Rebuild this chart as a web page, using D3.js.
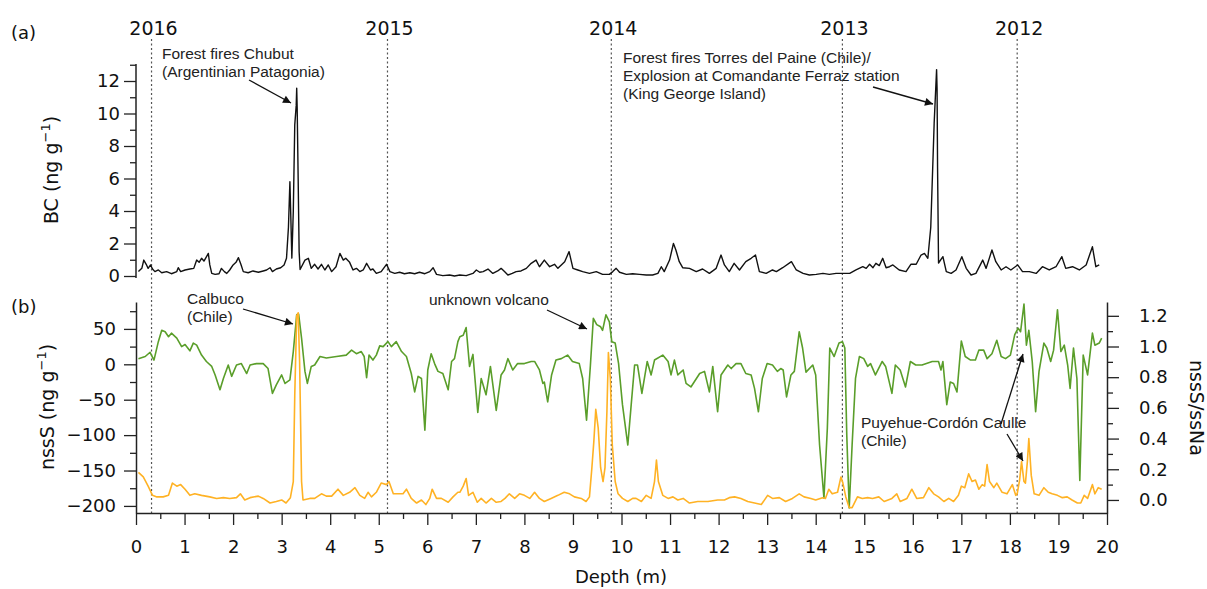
<!DOCTYPE html>
<html>
<head>
<meta charset="utf-8">
<script src="https://cdn.jsdelivr.net/npm/d3@7"></script>
<style>
body { margin: 0; background: #fff; }
text { font-family: "DejaVu Sans", sans-serif; fill: #111; }
.note { font-family: "Liberation Sans", Arial, sans-serif; font-size: 15.5px; fill: #222; }
</style>
</head>
<body>
<div id="container"></div>
<script>

var w = 1207;
var h = 589;

// year boundaries (depth in m)
var years = ["2016", "2015", "2014", "2013", "2012"];
var yearDepth = [0.32, 5.18, 9.79, 14.55, 18.15];

// black carbon, [depth m, ng/g]
var bc = [
  [0.05,0.27],[0.12,0.47],[0.16,0.98],[0.21,0.72],[0.25,0.47],[0.30,0.68],[0.34,0.43],[0.39,0.27],
  [0.46,0.37],[0.53,0.20],[0.63,0.27],[0.73,0.14],[0.84,0.27],[0.87,0.51],[0.92,0.27],
  [1.01,0.37],[1.11,0.43],[1.19,0.47],[1.25,0.98],[1.30,0.84],[1.35,1.09],[1.40,0.92],[1.49,1.39],
  [1.52,0.68],[1.56,0.16],[1.63,0.10],[1.71,0.14],[1.76,0.47],[1.82,0.27],[1.87,0.16],[1.93,0.37],
  [2.00,0.68],[2.06,0.84],[2.11,1.13],[2.16,0.72],[2.21,0.27],[2.31,0.20],[2.41,0.31],[2.52,0.23],
  [2.62,0.31],[2.69,0.37],[2.76,0.51],[2.81,0.27],[2.89,0.43],[2.98,0.51],
  [3.05,0.68],[3.10,1.09],[3.14,3.0],[3.17,5.8],[3.19,3.5],[3.21,1.1],[3.24,4.0],[3.27,9.3],
  [3.30,10.5],[3.31,11.55],[3.32,10.3],[3.34,6.0],[3.36,1.5],[3.38,0.4],
  [3.48,0.98],[3.55,1.09],[3.61,0.47],[3.68,0.72],[3.75,0.43],[3.82,0.72],[3.89,0.37],[3.96,0.68],
  [4.03,0.27],[4.12,0.57],[4.20,1.39],[4.27,0.98],[4.32,1.09],[4.40,0.84],[4.47,0.37],[4.54,0.47],
  [4.61,0.27],[4.68,0.37],[4.75,0.78],[4.83,0.37],[4.88,0.43],[4.95,0.16],
  [5.05,0.27],[5.16,0.72],[5.23,0.27],[5.33,0.16],[5.43,0.23],[5.53,0.14],[5.64,0.20],[5.74,0.14],
  [5.84,0.23],[5.95,0.14],[6.05,0.27],[6.12,0.51],[6.19,0.10],[6.32,0.02],[6.46,0.06],[6.56,0.0],
  [6.67,0.06],[6.80,0.02],[6.94,0.16],[7.01,0.37],[7.08,0.23],[7.15,0.27],[7.25,0.43],[7.35,0.16],
  [7.45,0.31],[7.52,0.47],[7.59,0.27],[7.66,0.06],[7.75,0.16],[7.83,0.27],[7.93,0.31],
  [8.04,0.47],[8.14,0.78],[8.24,0.98],[8.31,0.57],[8.41,0.98],[8.52,0.57],[8.62,0.72],[8.69,0.47],
  [8.83,0.88],[8.92,1.5],[9.00,0.47],[9.10,0.37],[9.20,0.27],[9.34,0.16],[9.48,0.27],[9.61,0.10],
  [9.75,0.10],[9.82,0.27],[9.89,0.47],[9.96,0.23],[10.10,0.10],[10.23,0.14],[10.37,0.10],
  [10.51,0.06],[10.64,0.06],[10.75,0.16],[10.82,0.57],[10.88,0.27],[10.99,0.98],[11.07,2.0],
  [11.12,1.6],[11.19,0.88],[11.26,0.51],[11.40,0.47],[11.54,0.27],[11.67,0.43],[11.81,0.16],
  [11.95,0.47],[12.05,1.29],[12.12,0.68],[12.22,0.27],[12.32,0.78],[12.43,0.37],[12.56,0.88],
  [12.67,1.09],[12.76,1.29],[12.84,0.27],[12.98,0.16],[13.11,0.37],[13.19,0.27],[13.32,0.51],
  [13.50,0.88],[13.60,0.37],[13.74,0.16],[13.87,0.06],[14.01,0.10],[14.15,0.16],[14.28,0.10],
  [14.42,0.16],[14.56,0.16],[14.70,0.16],[14.83,0.37],[14.97,0.57],[15.04,0.47],[15.11,0.72],
  [15.18,0.51],[15.24,0.78],[15.31,0.64],[15.38,1.09],[15.45,0.51],[15.52,0.57],[15.59,0.68],
  [15.72,0.37],[15.86,0.27],[15.96,0.72],[16.07,0.72],[16.17,1.29],[16.24,1.39],[16.31,1.09],
  [16.37,3.0],[16.44,9.4],[16.49,12.7],[16.50,11.5],[16.51,6.7],[16.53,0.8],[16.62,1.19],
  [16.69,0.27],[16.79,0.16],[16.89,0.37],[17.01,1.19],[17.10,0.47],[17.20,0.06],[17.30,0.16],
  [17.44,0.98],[17.51,0.47],[17.63,1.6],[17.71,0.88],[17.82,0.37],[17.92,0.57],[18.02,0.37],
  [18.16,0.68],[18.26,0.27],[18.40,0.27],[18.54,0.16],[18.67,0.57],[18.81,0.37],[18.95,0.57],
  [19.07,1.19],[19.15,0.47],[19.29,0.57],[19.43,0.37],[19.57,0.68],[19.70,1.8],[19.77,0.57],[19.84,0.68]
];

// nssS, [depth m, ng/g]  (green, left axis)
var nssS = [
  [0.05,8],[0.19,11],[0.29,17],[0.37,6],[0.46,32],[0.53,48],[0.60,46],[0.67,39],[0.73,44],[0.84,37],
  [0.94,25],[1.01,28],[1.11,19],[1.18,30],[1.25,27],[1.35,13],[1.45,4],[1.56,-3],[1.63,-15],[1.73,-36],
  [1.80,-20],[1.90,-1],[1.97,-17],[2.07,-1],[2.17,1],[2.28,-13],[2.35,-1],[2.48,1],[2.62,1],[2.72,-6],
  [2.81,-41],[2.89,-29],[3.00,-15],[3.07,-27],[3.17,-22],[3.24,18],[3.31,70],[3.35,71],[3.41,37],
  [3.48,-10],[3.53,-27],[3.61,-3],[3.68,-1],[3.79,11],[3.92,9],[4.13,11],[4.33,13],[4.44,20],[4.54,15],
  [4.64,18],[4.70,11],[4.75,-19],[4.80,13],[4.88,6],[4.95,13],[5.02,26],[5.09,25],[5.19,32],[5.26,25],
  [5.36,32],[5.47,18],[5.57,11],[5.67,-13],[5.74,-39],[5.81,-17],[5.88,-20],[5.95,-93],[6.01,-8],
  [6.08,15],[6.15,1],[6.22,-10],[6.32,-13],[6.43,-36],[6.50,4],[6.56,8],[6.63,32],[6.67,39],[6.74,41],
  [6.80,52],[6.87,-3],[6.94,14],[7.04,-68],[7.11,-20],[7.21,-43],[7.30,-3],[7.42,-65],[7.52,-15],
  [7.59,-8],[7.66,8],[7.76,-8],[7.86,1],[8.00,1],[8.14,4],[8.21,4],[8.31,-8],[8.38,-27],[8.41,-25],
  [8.48,-53],[8.56,-15],[8.65,6],[8.76,8],[8.89,13],[8.99,4],[9.13,1],[9.20,-20],[9.28,-79],[9.36,-1],
  [9.42,65],[9.49,56],[9.57,53],[9.61,48],[9.68,70],[9.75,60],[9.80,32],[9.87,30],[9.94,1],[10.02,-57],
  [10.13,-114],[10.20,-57],[10.27,-1],[10.33,-1],[10.42,-41],[10.53,4],[10.61,-15],[10.68,6],
  [10.85,13],[10.96,4],[11.02,-15],[11.09,6],[11.16,-15],[11.27,-8],[11.33,-27],[11.43,-32],
  [11.61,-13],[11.71,-10],[11.81,-39],[11.88,-3],[11.98,-67],[12.05,-15],[12.19,-1],[12.26,-6],
  [12.36,1],[12.46,1],[12.56,-13],[12.67,-15],[12.74,-34],[12.82,-67],[12.90,-20],[13.00,1],
  [13.11,-1],[13.21,-10],[13.28,-6],[13.33,-8],[13.40,-46],[13.49,-15],[13.56,-10],[13.66,46],
  [13.73,23],[13.80,-11],[13.94,-1],[14.00,-15],[14.08,-114],[14.17,-189],[14.24,-90],[14.29,23],
  [14.38,11],[14.48,30],[14.55,32],[14.60,23],[14.64,-100],[14.69,-203],[14.75,-114],[14.82,-20],
  [14.90,11],[14.99,8],[15.07,-3],[15.13,1],[15.23,-15],[15.37,4],[15.44,-3],[15.57,-41],[15.64,-1],
  [15.74,-8],[15.85,-32],[15.95,4],[16.06,-1],[16.19,-1],[16.40,4],[16.53,4],[16.58,-8],[16.62,4],
  [16.70,-57],[16.77,-25],[16.84,-27],[16.91,-39],[17.00,33],[17.08,11],[17.19,6],[17.29,6],
  [17.36,20],[17.46,20],[17.53,8],[17.63,15],[17.73,34],[17.82,11],[17.91,8],[18.01,13],[18.10,42],
  [18.17,51],[18.22,46],[18.29,85],[18.34,27],[18.39,48],[18.46,4],[18.53,-67],[18.60,-10],
  [18.70,30],[18.76,23],[18.84,4],[18.90,20],[18.98,77],[19.05,18],[19.12,27],[19.19,-1],[19.24,-34],
  [19.31,23],[19.38,-20],[19.44,-164],[19.51,13],[19.60,-15],[19.70,44],[19.75,27],[19.84,30],[19.89,37]
];

// nssS/ssNa, [depth m, ratio]  (orange, right axis)
var ratio = [
  [0.05,0.18],[0.15,0.15],[0.25,0.09],[0.34,0.03],[0.43,0.02],[0.56,0.02],[0.67,0.03],[0.75,0.11],
  [0.84,0.09],[0.92,0.10],[1.01,0.07],[1.11,0.03],[1.21,0.04],[1.35,0.03],[1.52,0.02],[1.66,0.01],
  [1.80,0.015],[1.93,0.01],[2.07,0.015],[2.15,0.04],[2.24,0.0],[2.35,0.015],[2.52,0.025],[2.62,0.01],
  [2.76,-0.02],[2.89,-0.01],[3.00,0.0],[3.09,-0.02],[3.18,0.015],[3.24,0.12],[3.27,0.68],[3.31,1.20],
  [3.34,1.22],[3.37,0.90],[3.41,0.12],[3.44,0.0],[3.58,0.01],[3.68,0.01],[3.82,0.04],[3.92,0.025],
  [4.03,0.025],[4.16,0.07],[4.27,0.03],[4.40,0.05],[4.51,0.08],[4.61,0.03],[4.71,0.01],[4.78,0.05],
  [4.85,0.02],[4.95,0.05],[5.05,0.11],[5.16,0.10],[5.21,0.12],[5.30,0.04],[5.40,0.04],[5.50,0.04],
  [5.57,0.07],[5.67,0.01],[5.78,-0.02],[5.88,0.0],[5.97,-0.03],[6.05,0.01],[6.10,0.07],[6.19,0.01],
  [6.29,0.01],[6.43,-0.015],[6.53,0.02],[6.63,0.05],[6.67,0.05],[6.74,0.09],[6.80,0.14],[6.85,0.03],
  [6.94,0.05],[7.03,-0.015],[7.11,0.01],[7.21,-0.02],[7.32,0.01],[7.42,-0.015],[7.52,-0.01],
  [7.60,0.01],[7.69,0.04],[7.80,0.01],[7.90,0.04],[8.00,0.03],[8.11,0.01],[8.21,0.05],[8.31,0.01],
  [8.41,-0.01],[8.55,0.01],[8.69,0.03],[8.82,0.05],[8.93,0.04],[9.03,0.02],[9.17,0.01],[9.27,-0.01],
  [9.34,0.02],[9.39,0.21],[9.43,0.38],[9.47,0.59],[9.52,0.47],[9.57,0.21],[9.62,0.12],[9.66,0.21],
  [9.70,0.58],[9.73,0.96],[9.77,0.79],[9.81,0.36],[9.87,0.12],[9.93,0.04],[10.02,0.01],[10.13,-0.01],
  [10.23,0.01],[10.30,0.01],[10.41,-0.01],[10.51,0.03],[10.61,0.01],[10.68,0.12],[10.72,0.26],
  [10.76,0.12],[10.85,0.03],[10.96,0.01],[11.06,0.02],[11.16,0.0],[11.27,0.01],[11.40,-0.02],
  [11.57,-0.01],[11.78,-0.01],[11.98,0.0],[12.12,0.0],[12.22,0.015],[12.33,0.02],[12.46,0.01],
  [12.60,-0.01],[12.74,-0.02],[12.88,-0.03],[13.01,0.03],[13.11,0.01],[13.25,0.015],[13.38,-0.01],
  [13.52,0.01],[13.66,0.04],[13.76,0.02],[13.90,0.01],[14.00,0.0],[14.14,0.015],[14.20,0.01],
  [14.27,0.07],[14.34,0.04],[14.45,0.05],[14.52,0.15],[14.56,0.11],[14.62,0.02],[14.69,-0.05],
  [14.75,-0.05],[14.86,0.02],[14.96,0.01],[15.07,0.015],[15.17,0.01],[15.30,0.02],[15.41,-0.01],
  [15.57,0.01],[15.67,0.04],[15.74,-0.01],[15.88,0.01],[15.98,0.07],[16.08,0.01],[16.22,0.015],
  [16.33,0.08],[16.43,0.04],[16.53,0.02],[16.64,-0.01],[16.74,0.01],[16.84,-0.01],[16.94,0.03],
  [17.00,0.09],[17.07,0.08],[17.15,0.17],[17.22,0.12],[17.29,0.13],[17.36,0.07],[17.43,0.10],
  [17.48,0.09],[17.53,0.23],[17.58,0.12],[17.67,0.08],[17.73,0.11],[17.84,0.05],[17.94,0.04],
  [18.05,0.10],[18.12,0.03],[18.15,0.04],[18.20,0.13],[18.24,0.25],[18.29,0.12],[18.32,0.11],
  [18.36,0.25],[18.39,0.40],[18.44,0.16],[18.50,0.04],[18.60,0.03],[18.70,0.08],[18.79,0.05],
  [18.87,0.04],[18.98,0.03],[19.08,0.015],[19.18,0.02],[19.28,0.0],[19.39,-0.02],[19.46,-0.02],
  [19.53,0.03],[19.60,0.01],[19.70,0.10],[19.75,0.04],[19.82,0.08],[19.89,0.07]
];

// tick values
var depthTicks = d3.range(0, 21, 1);
var depthMinor = d3.range(0.5, 20, 1);
var bcTicks = [0, 2, 4, 6, 8, 10, 12];
var bcMinor = [1, 3, 5, 7, 9, 11, 13];
var nssTicks = [-200, -150, -100, -50, 0, 50];
var nssMinor = [-175, -125, -75, -25, 25, 75];
var ratioTicks = [0, 0.2, 0.4, 0.6, 0.8, 1.0, 1.2];
var ratioMinor = [0.1, 0.3, 0.5, 0.7, 0.9, 1.1];

var svg = d3.select("div#container").append("svg")
    .attr("width", w).attr("height", h)
    .style("background-color", "white");

var defs = svg.append("defs");
defs.append("marker")
    .attr("id", "arr")
    .attr("viewBox", "0 0 10 10")
    .attr("refX", 10).attr("refY", 5)
    .attr("markerWidth", 10).attr("markerHeight", 8)
    .attr("markerUnits", "userSpaceOnUse")
    .attr("orient", "auto")
  .append("path")
    .attr("d", "M0,0 L10,5 L0,10 z")
    .attr("fill", "#111");

var x = d3.scaleLinear().domain([0, 20]).range([136, 1107]);
var yBC = d3.scaleLinear().domain([0, 13]).range([276, 64.75]);
var yS = d3.scaleLinear().domain([-210, 88]).range([513, 302]);
var yR = d3.scaleLinear().domain([-0.085, 1.29]).range([513, 302]);

function styleAxis(g) {
  g.selectAll("path.domain").attr("stroke", "#222").attr("stroke-width", 1.5);
  g.selectAll(".tick line").attr("stroke", "#222").attr("stroke-width", 1.3);
  g.selectAll(".tick text").style("font-family", "DejaVu Sans").style("font-size", "18px").attr("fill", "#111");
}

// year dotted lines
svg.append("g").selectAll("line")
  .data(yearDepth)
  .enter().append("line")
    .attr("x1", function(d) { return x(d); })
    .attr("x2", function(d) { return x(d); })
    .attr("y1", 39).attr("y2", 513)
    .attr("stroke", "#555")
    .attr("stroke-width", 1.2)
    .attr("stroke-dasharray", "2,2.5");

svg.append("g").selectAll("text")
  .data(years)
  .enter().append("text")
    .attr("x", function(d, i) { return x(yearDepth[i]) + 2; })
    .attr("y", 35)
    .attr("text-anchor", "middle")
    .style("font-size", "19px")
    .text(function(d) { return d; });

// axes
var gx = svg.append("g").attr("transform", "translate(0,513)")
    .call(d3.axisBottom(x).tickValues(depthTicks).tickSize(12).tickSizeOuter(0).tickPadding(15).tickFormat(d3.format("d")));
styleAxis(gx);
var gx2 = svg.append("g").attr("transform", "translate(0,513)")
    .call(d3.axisBottom(x).tickValues(depthMinor).tickSize(6).tickFormat(""));
gx2.select(".domain").remove();
styleAxis(gx2);

var ga = svg.append("g").attr("transform", "translate(136,0)")
    .call(d3.axisLeft(yBC).tickValues(bcTicks).tickSize(12).tickSizeOuter(0).tickPadding(4));
styleAxis(ga);
ga.select(".domain").attr("d", "M0,278V64");
var ga2 = svg.append("g").attr("transform", "translate(136,0)")
    .call(d3.axisLeft(yBC).tickValues(bcMinor).tickSize(6).tickFormat(""));
ga2.select(".domain").remove();
styleAxis(ga2);

var gb = svg.append("g").attr("transform", "translate(136,0)")
    .call(d3.axisLeft(yS).tickValues(nssTicks).tickSize(12).tickSizeOuter(0).tickPadding(8));
styleAxis(gb);
var gb2 = svg.append("g").attr("transform", "translate(136,0)")
    .call(d3.axisLeft(yS).tickValues(nssMinor).tickSize(6).tickFormat(""));
gb2.select(".domain").remove();
styleAxis(gb2);

var gr = svg.append("g").attr("transform", "translate(1107,0)")
    .call(d3.axisRight(yR).tickValues(ratioTicks).tickSize(12).tickSizeOuter(0).tickPadding(20).tickFormat(d3.format(".1f")));
styleAxis(gr);
var gr2 = svg.append("g").attr("transform", "translate(1107,0)")
    .call(d3.axisRight(yR).tickValues(ratioMinor).tickSize(6).tickFormat(""));
gr2.select(".domain").remove();
styleAxis(gr2);

// series
var lineBC = d3.line().x(function(d) { return x(d[0]); }).y(function(d) { return yBC(d[1]); });
var lineS = d3.line().x(function(d) { return x(d[0]); }).y(function(d) { return yS(d[1]); });
var lineR = d3.line().x(function(d) { return x(d[0]); }).y(function(d) { return yR(d[1]); });

svg.append("path").datum(bc)
    .attr("d", lineBC).attr("fill", "none")
    .attr("stroke", "#111").attr("stroke-width", 1.4).attr("stroke-linejoin", "round");

svg.append("path").datum(nssS)
    .attr("d", lineS).attr("fill", "none")
    .attr("stroke", "#5a9e2a").attr("stroke-width", 1.6).attr("stroke-linejoin", "round");

svg.append("path").datum(ratio)
    .attr("d", lineR).attr("fill", "none")
    .attr("stroke", "#ffb224").attr("stroke-width", 1.6).attr("stroke-linejoin", "round");

// axis titles
var t1 = svg.append("text").attr("transform", "translate(58,170) rotate(-90)")
    .attr("text-anchor", "middle").style("font-size", "19px");
t1.append("tspan").text("BC (ng g");
t1.append("tspan").attr("dy", -8).style("font-size", "13px").text("−1");
t1.append("tspan").attr("dy", 8).text(")");

var t2 = svg.append("text").attr("transform", "translate(54,407) rotate(-90)")
    .attr("text-anchor", "middle").style("font-size", "19px");
t2.append("tspan").text("nssS (ng g");
t2.append("tspan").attr("dy", -8).style("font-size", "13px").text("−1");
t2.append("tspan").attr("dy", 8).text(")");

svg.append("text").attr("transform", "translate(1190,408) rotate(90)")
    .attr("text-anchor", "middle").style("font-size", "19px").text("nssS/ssNa");

svg.append("text").attr("x", 621).attr("y", 583)
    .attr("text-anchor", "middle").style("font-size", "18px").text("Depth (m)");

svg.append("text").attr("x", 11).attr("y", 39).style("font-size", "18px").text("(a)");
svg.append("text").attr("x", 11).attr("y", 313).style("font-size", "18px").text("(b)");

// annotations
var notes = [
  { x: 162, y: 59, lines: ["Forest fires Chubut", "(Argentinian Patagonia)"] },
  { x: 623, y: 63, lines: ["Forest fires Torres del Paine (Chile)/", "Explosion at Comandante Ferraz station", "(King George Island)"] },
  { x: 187, y: 304, lines: ["Calbuco", "(Chile)"] },
  { x: 429, y: 305, lines: ["unknown volcano"] },
  { x: 861, y: 428, lines: ["Puyehue-Cordón Caulle", "(Chile)"] }
];
notes.forEach(function(n) {
  var t = svg.append("text").attr("class", "note").attr("x", n.x).attr("y", n.y);
  n.lines.forEach(function(s, i) {
    t.append("tspan").attr("x", n.x).attr("dy", i === 0 ? 0 : 18).text(s);
  });
});

var arrows = [
  [249, 80, 291, 103],
  [873, 87, 933, 104],
  [243, 309, 293, 324],
  [547, 310, 587, 329],
  [1001, 424, 1023, 354],
  [1007, 434, 1023, 461]
];
svg.append("g").selectAll("line")
  .data(arrows)
  .enter().append("line")
    .attr("x1", function(d) { return d[0]; })
    .attr("y1", function(d) { return d[1]; })
    .attr("x2", function(d) { return d[2]; })
    .attr("y2", function(d) { return d[3]; })
    .attr("stroke", "#111")
    .attr("stroke-width", 1.3)
    .attr("marker-end", "url(#arr)");

</script>
</body>
</html>
